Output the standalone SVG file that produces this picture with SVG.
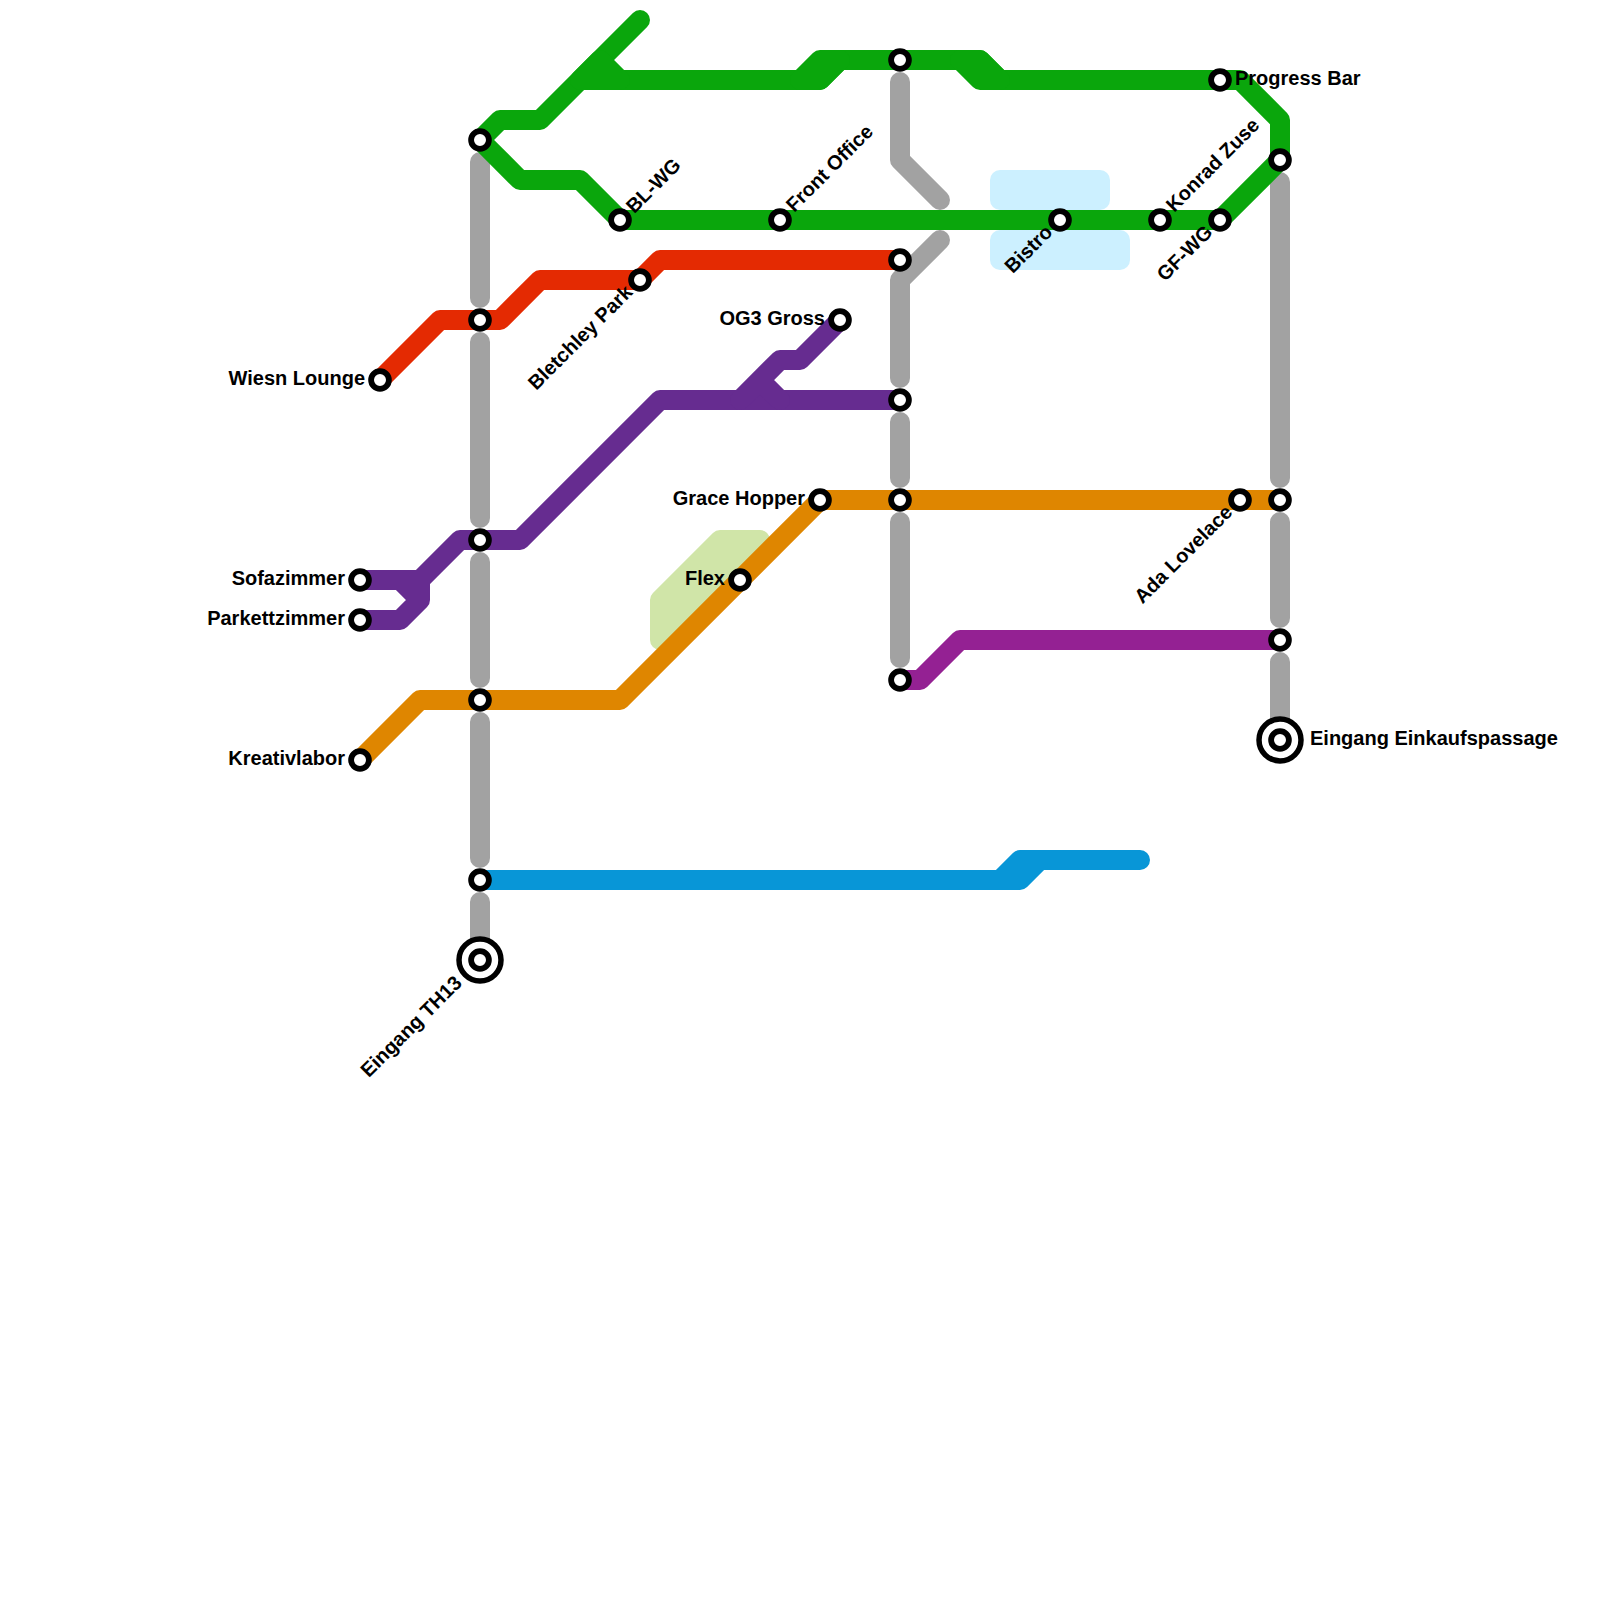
<svg xmlns="http://www.w3.org/2000/svg" width="1600" height="1600" viewBox="0 0 1600 1600">
<style>
.l{fill:none;stroke-width:20;stroke-linecap:round;stroke-linejoin:round}
.g{stroke:#0aa60c}.s{stroke:#a2a2a2}.r{stroke:#e42a02}.p{stroke:#662c90}.o{stroke:#df8600}.m{stroke:#942193}.b{stroke:#0896d7}
.fg{fill:#0aa60c}.fb{fill:#0896d7}
.st{fill:#fff;stroke:#000;stroke-width:5.8}
.bi{fill:#fff;stroke:#000;stroke-width:5.5}
text{font-family:"Liberation Sans",Arial,sans-serif;font-weight:bold;font-size:20px;fill:#000}
.e{text-anchor:end}
</style>
<rect width="1600" height="1600" fill="#fff"/>
<g id="areas">
<path d="M1000 180H1100V200H1000Z" fill="#ccf0ff" stroke="#ccf0ff" stroke-width="20" stroke-linejoin="round"/>
<path d="M1000 240H1120V260H1000Z" fill="#ccf0ff" stroke="#ccf0ff" stroke-width="20" stroke-linejoin="round"/>
<path d="M660 600L720 540H760L660 640Z" fill="#d0e5a8" stroke="#d0e5a8" stroke-width="20" stroke-linejoin="round"/>
</g>
<g id="connectors">
<path class="l s" d="M480 162V298M480 342V518M480 562V678M480 722V858M480 902V940"/>
<path class="l s" d="M900 82V160L940 200M940 240L900 280V378M900 422V478M900 522V658"/>
<path class="l s" d="M1280 182V478M1280 522V618M1280 662V720"/>
<path class="l g" d="M640 20L540 120H500L480 140L520 180H580L620 220H1220L1280 160V120L1240 80H1000L980 60H840L820 80H580"/>
<path class="l g fg" d="M800 80L820 60H840L820 80ZM960 60H980L1000 80H980ZM600 60L620 80H580Z"/>
<path class="l r" d="M380 380L440 320H500L540 280H640L660 260H900"/>
<path class="l p" d="M360 580H420L460 540H520L660 400H900M360 620H400L420 600V580M400 580L420 600"/>
<path class="l p" d="M740 400L780 360H800L840 320M760 380L780 400"/>
<path class="l o" d="M360 760L420 700H620L820 500H1280"/>
<path class="l m" d="M900 680H920L960 640H1280"/>
<path class="l b fb" d="M480 880H1020L1040 860H1140H1020L1000 880"/>
</g>
<g id="n-wiesn"><circle class="st" cx="380" cy="380" r="8.9"/><text class="e" x="365" y="385">Wiesn Lounge</text></g>
<g id="n-sofa"><circle class="st" cx="360" cy="580" r="8.9"/><text class="e" x="345" y="585">Sofazimmer</text></g>
<g id="n-parkett"><circle class="st" cx="360" cy="620" r="8.9"/><text class="e" x="345" y="625">Parkettzimmer</text></g>
<g id="n-kreativ"><circle class="st" cx="360" cy="760" r="8.9"/><text class="e" x="345" y="765">Kreativlabor</text></g>
<g id="n-th13"><circle class="bi" cx="480" cy="960" r="21"/><circle class="st" cx="480" cy="960" r="8.9"/><text class="e" transform="translate(480 960) rotate(-45)" x="-29" y="5">Eingang TH13</text></g>
<g id="n-480-140"><circle class="st" cx="480" cy="140" r="8.9"/></g>
<g id="n-480-320"><circle class="st" cx="480" cy="320" r="8.9"/></g>
<g id="n-480-540"><circle class="st" cx="480" cy="540" r="8.9"/></g>
<g id="n-480-700"><circle class="st" cx="480" cy="700" r="8.9"/></g>
<g id="n-480-880"><circle class="st" cx="480" cy="880" r="8.9"/></g>
<g id="n-blwg"><circle class="st" cx="620" cy="220" r="8.9"/><text transform="translate(620 220) rotate(-45)" x="14" y="6">BL-WG</text></g>
<g id="n-bletchley"><circle class="st" cx="640" cy="280" r="8.9"/><text class="e" transform="translate(640 280) rotate(-45)" x="-14" y="5">Bletchley Park</text></g>
<g id="n-front"><circle class="st" cx="780" cy="220" r="8.9"/><text transform="translate(780 220) rotate(-45)" x="15" y="5">Front Office</text></g>
<g id="n-og3"><circle class="st" cx="840" cy="320" r="8.9"/><text class="e" x="825" y="325">OG3 Gross</text></g>
<g id="n-grace"><circle class="st" cx="820" cy="500" r="8.9"/><text class="e" x="805" y="505">Grace Hopper</text></g>
<g id="n-flex"><circle class="st" cx="740" cy="580" r="8.9"/><text class="e" x="725" y="585">Flex</text></g>
<g id="n-900-60"><circle class="st" cx="900" cy="60" r="8.9"/></g>
<g id="n-900-260"><circle class="st" cx="900" cy="260" r="8.9"/></g>
<g id="n-900-400"><circle class="st" cx="900" cy="400" r="8.9"/></g>
<g id="n-900-500"><circle class="st" cx="900" cy="500" r="8.9"/></g>
<g id="n-900-680"><circle class="st" cx="900" cy="680" r="8.9"/></g>
<g id="n-bistro"><circle class="st" cx="1060" cy="220" r="8.9"/><text class="e" transform="translate(1060 220) rotate(-45)" x="-14" y="5">Bistro</text></g>
<g id="n-konrad"><circle class="st" cx="1160" cy="220" r="8.9"/><text transform="translate(1160 220) rotate(-45)" x="15" y="5">Konrad Zuse</text></g>
<g id="n-gfwg"><circle class="st" cx="1220" cy="220" r="8.9"/><text class="e" transform="translate(1220 220) rotate(-45)" x="-14" y="5">GF-WG</text></g>
<g id="n-progress"><circle class="st" cx="1220" cy="80" r="8.9"/><text x="1235" y="85">Progress Bar</text></g>
<g id="n-1280-160"><circle class="st" cx="1280" cy="160" r="8.9"/></g>
<g id="n-ada"><circle class="st" cx="1240" cy="500" r="8.9"/><text class="e" transform="translate(1240 500) rotate(-45)" x="-14" y="5">Ada Lovelace</text></g>
<g id="n-1280-500"><circle class="st" cx="1280" cy="500" r="8.9"/></g>
<g id="n-1280-640"><circle class="st" cx="1280" cy="640" r="8.9"/></g>
<g id="n-einkauf"><circle class="bi" cx="1280" cy="740" r="21"/><circle class="st" cx="1280" cy="740" r="8.9"/><text x="1310" y="745">Eingang Einkaufspassage</text></g>
</svg>
